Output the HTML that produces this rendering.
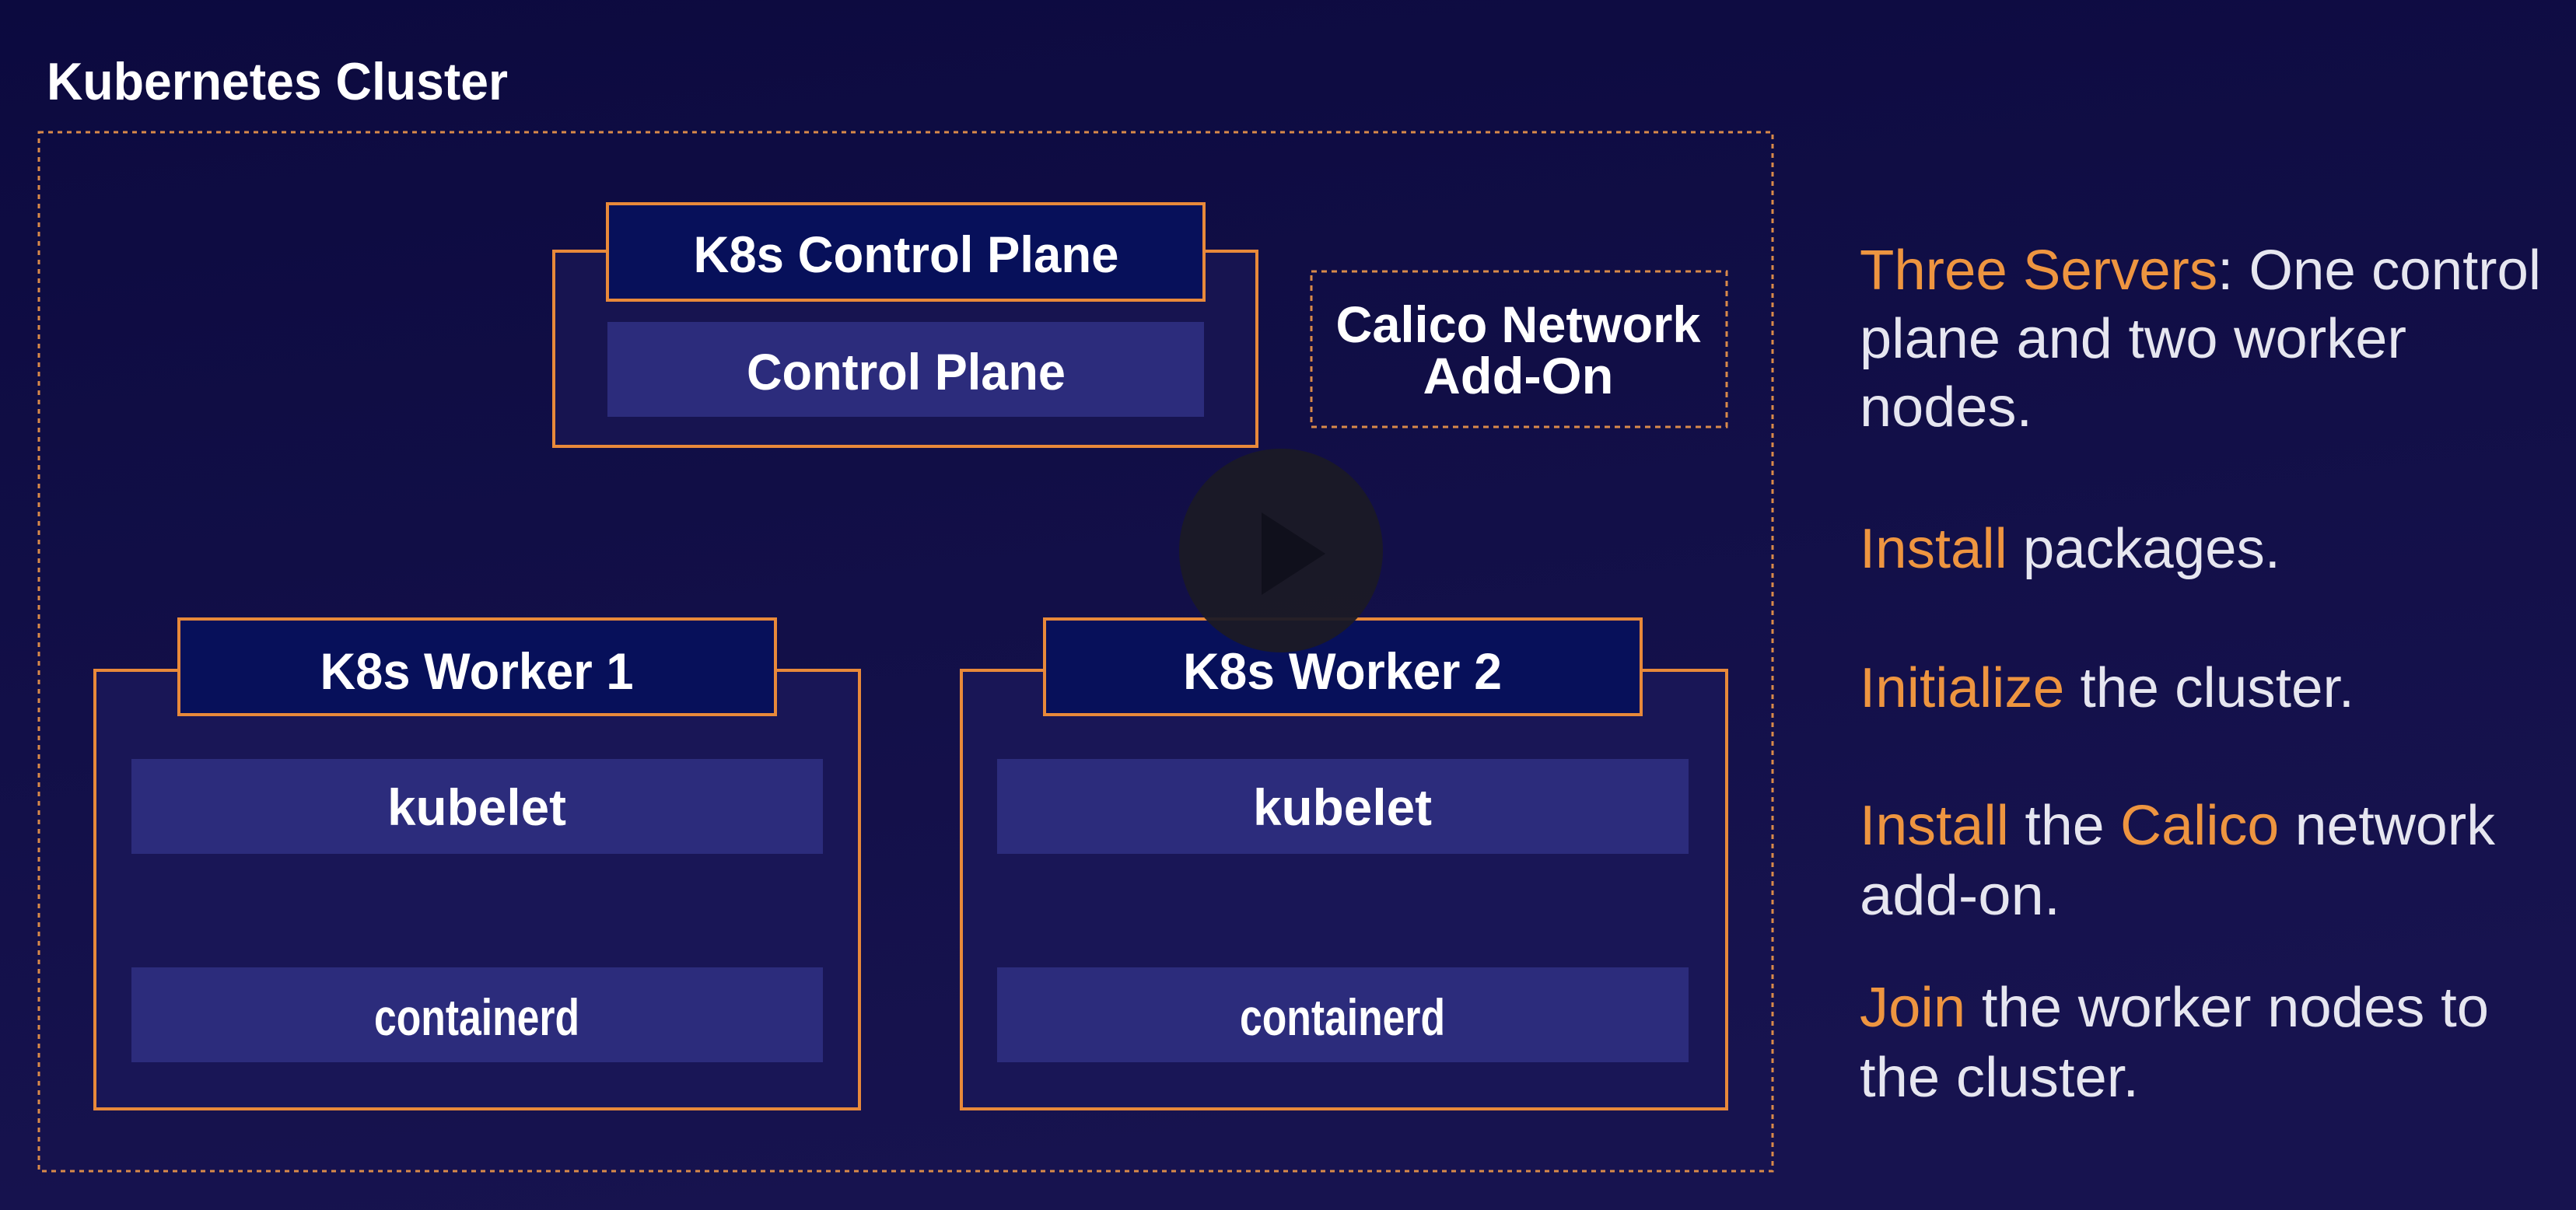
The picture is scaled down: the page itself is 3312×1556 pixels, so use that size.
<!DOCTYPE html>
<html><head><meta charset="utf-8"><style>
html,body{margin:0;padding:0;background:#120f48;}
svg{display:block}
</style></head><body>
<svg width="3312" height="1556" viewBox="0 0 3312 1556" xmlns="http://www.w3.org/2000/svg">
<defs>
<linearGradient id="bg" x1="0" y1="0" x2="0.3" y2="1">
<stop offset="0" stop-color="#0c0a3f"/><stop offset="1" stop-color="#17134f"/>
</linearGradient>
</defs>
<rect width="3312" height="1556" fill="url(#bg)"/>
<g font-family="Liberation Sans, sans-serif" font-weight="bold" fill="#ffffff" text-anchor="middle">
<text x="60" y="128" font-size="68" text-anchor="start" textLength="593" lengthAdjust="spacingAndGlyphs">Kubernetes Cluster</text>
</g>
<rect x="50" y="170" width="2229" height="1336" fill="none" stroke="#d98a4a" stroke-width="3" stroke-dasharray="6 6"/>
<rect x="712" y="323" width="904" height="251" fill="#171450" stroke="#e8893a" stroke-width="4"/>
<rect x="781" y="262" width="767" height="124" fill="#07105a" stroke="#e8893a" stroke-width="4"/>
<rect x="781" y="414" width="767" height="122" fill="#2c2c7c"/>
<rect x="1686" y="349" width="534" height="200" fill="none" stroke="#d98a4a" stroke-width="3" stroke-dasharray="7 6"/>
<rect x="122" y="862" width="983" height="564" fill="#191656" stroke="#e8893a" stroke-width="4"/>
<rect x="230" y="796" width="767" height="123" fill="#07105a" stroke="#e8893a" stroke-width="4"/>
<rect x="169" y="976" width="889" height="122" fill="#2c2c7c"/>
<rect x="169" y="1244" width="889" height="122" fill="#2c2c7c"/>
<rect x="1236" y="862" width="984" height="564" fill="#191656" stroke="#e8893a" stroke-width="4"/>
<rect x="1343" y="796" width="767" height="123" fill="#07105a" stroke="#e8893a" stroke-width="4"/>
<rect x="1282" y="976" width="889" height="122" fill="#2c2c7c"/>
<rect x="1282" y="1244" width="889" height="122" fill="#2c2c7c"/>
<g font-family="Liberation Sans, sans-serif" font-weight="bold" fill="#ffffff" text-anchor="middle" font-size="66">
<text x="1165" y="350" textLength="547" lengthAdjust="spacingAndGlyphs">K8s Control Plane</text>
<text x="1165" y="501" textLength="410" lengthAdjust="spacingAndGlyphs">Control Plane</text>
<text x="1952" y="440" textLength="469" lengthAdjust="spacingAndGlyphs">Calico Network</text>
<text x="1952" y="506" textLength="245" lengthAdjust="spacingAndGlyphs">Add-On</text>
<text x="613" y="886" textLength="403" lengthAdjust="spacingAndGlyphs">K8s Worker 1</text>
<text x="1726" y="886" textLength="410" lengthAdjust="spacingAndGlyphs">K8s Worker 2</text>
<text x="613" y="1061" textLength="230" lengthAdjust="spacingAndGlyphs">kubelet</text>
<text x="1726" y="1061" textLength="230" lengthAdjust="spacingAndGlyphs">kubelet</text>
<text x="613" y="1331" textLength="264" lengthAdjust="spacingAndGlyphs">containerd</text>
<text x="1726" y="1331" textLength="264" lengthAdjust="spacingAndGlyphs">containerd</text>
</g>
<circle cx="1647" cy="708" r="131" fill="#1b1a26" fill-opacity="0.95"/>
<polygon points="1622,659 1622,765 1704,712" fill="#10101c"/>
<g font-family="Liberation Sans, sans-serif" font-size="72" fill="#e6e6f0">
<text x="2391" y="372" textLength="876" lengthAdjust="spacingAndGlyphs"><tspan fill="#ee9540">Three Servers</tspan>: One control</text>
<text x="2391" y="460" textLength="703" lengthAdjust="spacingAndGlyphs">plane and two worker</text>
<text x="2391" y="548" textLength="222" lengthAdjust="spacingAndGlyphs">nodes.</text>
<text x="2391" y="730" textLength="541" lengthAdjust="spacingAndGlyphs"><tspan fill="#ee9540">Install</tspan> packages.</text>
<text x="2391" y="909" textLength="636" lengthAdjust="spacingAndGlyphs"><tspan fill="#ee9540">Initialize</tspan> the cluster.</text>
<text x="2391" y="1086" textLength="817" lengthAdjust="spacingAndGlyphs"><tspan fill="#ee9540">Install</tspan> the <tspan fill="#ee9540">Calico</tspan> network</text>
<text x="2391" y="1176" textLength="258" lengthAdjust="spacingAndGlyphs">add-on.</text>
<text x="2391" y="1320" textLength="809" lengthAdjust="spacingAndGlyphs"><tspan fill="#ee9540">Join</tspan> the worker nodes to</text>
<text x="2391" y="1410" textLength="359" lengthAdjust="spacingAndGlyphs">the cluster.</text>
</g>
</svg>
</body></html>
